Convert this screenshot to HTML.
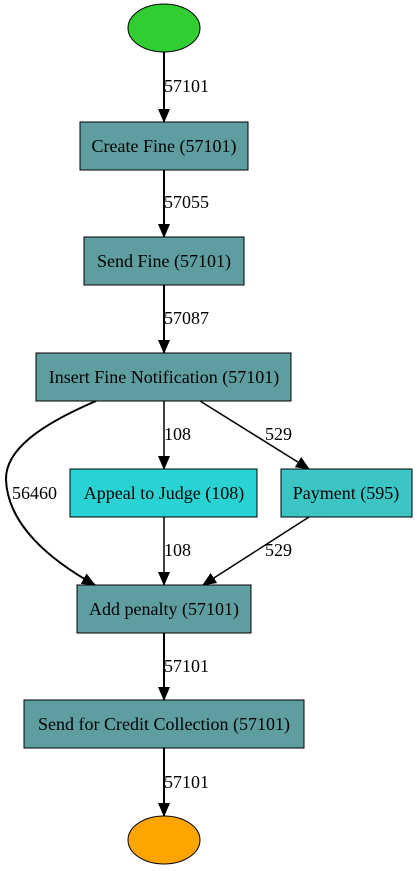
<!DOCTYPE html>
<html><head><meta charset="utf-8"><style>body{margin:0;background:#fff}svg{display:block}text{font-family:"Liberation Serif",serif;font-size:18px;fill:#000}</style></head><body>
<svg width="417" height="871" viewBox="0 0 417 871" xmlns="http://www.w3.org/2000/svg">
<defs>
<marker id="b" markerWidth="14" markerHeight="14" refX="13" refY="7" orient="auto" markerUnits="userSpaceOnUse"><path d="M0,1 L14,7 L0,13 z" fill="#000"/></marker></defs>
<g stroke="#000" fill="none">
<path d="M164,52 L164,122" stroke-width="2" marker-end="url(#b)"/>
<path d="M164,170 L164,237" stroke-width="2" marker-end="url(#b)"/>
<path d="M164,285 L164,353" stroke-width="2" marker-end="url(#b)"/>
<path d="M164,401 L164,469" stroke-width="1.5" marker-end="url(#b)"/>
<path d="M200,401 L309,469" stroke-width="1.5" marker-end="url(#b)"/>
<path d="M96,401 C40,425 5,450 6,480 C8,525 50,560 95,585" stroke-width="2" marker-end="url(#b)"/>
<path d="M164,517 L164,585" stroke-width="1.5" marker-end="url(#b)"/>
<path d="M309,517 L203,585" stroke-width="1.5" marker-end="url(#b)"/>
<path d="M164,633 L164,700" stroke-width="2" marker-end="url(#b)"/>
<path d="M164,748 L164,816" stroke-width="2" marker-end="url(#b)"/>
</g>
<ellipse cx="164" cy="28" rx="36" ry="24" fill="#32CD32" stroke="#000"/>
<ellipse cx="164" cy="840" rx="36" ry="24" fill="#FFA500" stroke="#000"/>
<g stroke="#000">
<rect x="80" y="122" width="168" height="48" fill="#5F9EA0"/>
<rect x="84" y="237" width="160" height="48" fill="#5F9EA0"/>
<rect x="36" y="353" width="255" height="48" fill="#5F9EA0"/>
<rect x="70" y="469" width="187" height="48" fill="#2AD3D3"/>
<rect x="281" y="469" width="131" height="48" fill="#3CC5C5"/>
<rect x="77" y="585" width="174" height="48" fill="#5F9EA0"/>
<rect x="24" y="700" width="280" height="48" fill="#5F9EA0"/>
</g>
<g text-anchor="middle">
<text x="164" y="152">Create Fine (57101)</text>
<text x="164" y="267">Send Fine (57101)</text>
<text x="164" y="383">Insert Fine Notification (57101)</text>
<text x="164" y="499">Appeal to Judge (108)</text>
<text x="346" y="499">Payment (595)</text>
<text x="164" y="615">Add penalty (57101)</text>
<text x="164" y="730">Send for Credit Collection (57101)</text>
</g>
<text x="164" y="92">57101</text>
<text x="164" y="208">57055</text>
<text x="164" y="324">57087</text>
<text x="164" y="440">108</text>
<text x="265" y="440">529</text>
<text x="12" y="499">56460</text>
<text x="164" y="556">108</text>
<text x="265" y="556">529</text>
<text x="164" y="672">57101</text>
<text x="164" y="788">57101</text>
</svg>
</body></html>
